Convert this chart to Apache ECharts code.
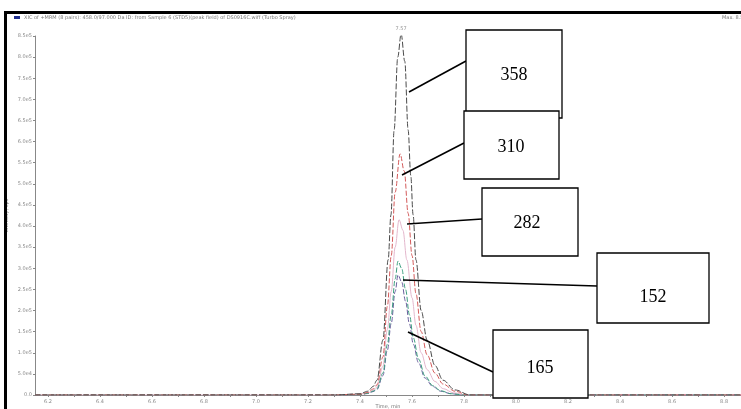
<!DOCTYPE html>
<html><head><meta charset="utf-8">
<script src="https://cdn.jsdelivr.net/npm/echarts@6/dist/echarts.min.js"></script>
<style>html,body{margin:0;padding:0;background:#fff}#c{width:741px;height:409px}</style>
</head><body><div id="c"></div>
<script>
// ---- data ----
const xTickLabels = [6.2, 6.4, 6.6, 6.8, 7.0, 7.2, 7.4, 7.6, 7.8, 8.0, 8.2, 8.4, 8.6, 8.8];
const xMinorTicks = [6.2,6.3,6.4,6.5,6.6,6.7,6.8,6.9,7.0,7.1,7.2,7.3,7.4,7.5,7.6,7.7,7.8,7.9,8.0,8.1,8.2,8.3,8.4,8.5,8.6,8.7,8.8];
const peakLabel = "7.57";

const t358 = [6.15, 7.30, 7.40, 7.43, 7.45, 7.465, 7.488, 7.508, 7.519, 7.531, 7.545, 7.558, 7.572, 7.585, 7.595, 7.604, 7.615, 7.635, 7.658, 7.688, 7.719, 7.765, 7.823, 8.865];
const v358 = [0, 0, 3000, 9000, 20000, 35000, 130000, 320000, 427000, 627000, 800000, 855000, 790000, 627000, 520000, 427000, 320000, 200000, 130000, 70000, 35000, 12000, 0, 0];

const t310 = [6.15, 7.30, 7.40, 7.43, 7.45, 7.465, 7.488, 7.505, 7.52, 7.535, 7.554, 7.570, 7.585, 7.60, 7.615, 7.635, 7.658, 7.688, 7.719, 7.765, 7.815, 8.865];
const v310 = [0, 0, 2000, 6000, 14000, 24000, 90000, 210000, 330000, 480000, 571000, 530000, 430000, 330000, 240000, 150000, 95000, 52000, 26000, 9000, 0, 0];

const t282 = [6.15, 7.30, 7.40, 7.43, 7.45, 7.465, 7.488, 7.505, 7.52, 7.535, 7.550, 7.565, 7.58, 7.60, 7.615, 7.635, 7.658, 7.688, 7.72, 7.76, 7.81, 8.865];
const v282 = [0, 0, 1500, 5000, 11000, 19000, 68000, 155000, 245000, 350000, 415000, 390000, 320000, 230000, 165000, 100000, 60000, 32000, 15000, 5000, 0, 0];

const t152 = [6.15, 7.30, 7.40, 7.43, 7.45, 7.465, 7.488, 7.505, 7.52, 7.535, 7.546, 7.56, 7.575, 7.59, 7.605, 7.625, 7.65, 7.68, 7.71, 7.75, 7.80, 8.865];
const v152 = [0, 0, 1200, 4000, 9000, 15000, 52000, 120000, 190000, 275000, 317000, 300000, 250000, 190000, 135000, 85000, 45000, 22000, 10000, 3000, 0, 0];

const t165 = [6.15, 7.30, 7.40, 7.43, 7.45, 7.465, 7.488, 7.505, 7.52, 7.535, 7.546, 7.56, 7.575, 7.59, 7.605, 7.625, 7.65, 7.68, 7.71, 7.75, 7.80, 8.865];
const v165 = [0, 0, 1000, 3500, 8000, 13000, 46000, 106000, 170000, 245000, 284000, 268000, 222000, 168000, 120000, 76000, 40000, 20000, 9000, 3000, 0, 0];

const boxLabels = ["358", "310", "282", "152", "165"];

function pairs(t, v) { return t.map((x, i) => [x, v[i]]); }

const chart = echarts.init(document.getElementById('c'), null, {renderer: 'canvas'});

function yFmt(v) {
  if (v === 0) return '0.0';
  if (v < 100000) return (v / 10000).toFixed(1) + 'e4';
  return (v / 100000).toFixed(1) + 'e5';
}

function lineSeries(name, t, v, color, dash, z) {
  return {
    name: name, type: 'line', data: pairs(t, v), showSymbol: false, symbol: 'none',
    smooth: 0.35, smoothMonotone: 'x', z: z,
    lineStyle: {color: color, width: 1, type: dash},
    emphasis: {disabled: true}
  };
}

const font = 'DejaVu Sans';
const peakSeries = {
  type: 'scatter', z: 6, symbol: 'circle', symbolSize: 2, silent: true, clip: false,
  itemStyle: {color: 'rgba(255,255,255,0)'},
  data: [[t358[11], v358[11]]],
  label: {show: true, position: 'top', distance: 2, formatter: peakLabel, fontSize: 5, color: '#777', fontFamily: font},
  labelLayout: {hideOverlap: false},
  emphasis: {disabled: true}
};

const option = {
  animation: false,
  backgroundColor: '#fff',
  grid: {left: 35, right: 0, top: 36, bottom: 14, containLabel: false, outerBoundsMode: 'none'},
  xAxis: {
    type: 'value', min: 6.15, max: 8.865,
    name: 'Time, min', nameLocation: 'middle', nameGap: 9, nameMoveOverlap: false,
    nameTextStyle: {fontSize: 5, color: '#777', fontFamily: font, padding: [0, 0, 0, 0]},
    axisLine: {lineStyle: {color: '#888', width: 1}},
    axisTick: {show: true, length: 2, customValues: xMinorTicks, lineStyle: {color: '#888'}},
    axisLabel: {customValues: xTickLabels, formatter: v => v.toFixed(1), fontSize: 5, color: '#888', margin: 4, fontFamily: font},
    splitLine: {show: false}
  },
  yAxis: {
    type: 'value', min: 0, max: 850000, interval: 50000,
    name: 'Intensity, cps', nameLocation: 'middle', nameGap: 26, nameRotate: 90, nameMoveOverlap: false,
    nameTextStyle: {fontSize: 5, color: '#777', fontFamily: font},
    axisLine: {show: true, lineStyle: {color: '#888', width: 1}},
    axisTick: {show: true, length: 2, lineStyle: {color: '#888'}},
    axisLabel: {formatter: yFmt, fontSize: 5, color: '#888', margin: 3, fontFamily: font},
    splitLine: {show: false}
  },
  series: [
    lineSeries('165', t165, v165, '#6a5f9e', [5, 2], 2),
    lineSeries('152', t152, v152, '#3c9e7e', [5, 2], 3),
    lineSeries('282', t282, v282, '#e3b7cc', 'solid', 2),
    lineSeries('310', t310, v310, '#d35a5a', [5, 2], 4),
    lineSeries('358', t358, v358, '#4a4a4a', [6, 2], 5),
    peakSeries
  ],
  graphic: {
    elements: [
      // frame
      {type: 'rect', silent: true, z: 100, shape: {x: 4, y: 11, width: 740, height: 3}, style: {fill: '#000'}},
      {type: 'rect', silent: true, z: 100, shape: {x: 4, y: 11, width: 3, height: 400}, style: {fill: '#000'}},
      // header
      {type: 'rect', silent: true, z: 100, shape: {x: 14, y: 16, width: 6, height: 3}, style: {fill: '#1f2f8f'}},
      {type: 'text', silent: true, z: 100, x: 24, y: 17.5, style: {text: 'XIC of +MRM (8 pairs): 458.0/97.000 Da ID: from Sample 6 (STD5)(peak field) of DS0916C.wiff (Turbo Spray)', font: '5px "DejaVu Sans"', fill: '#777', textVerticalAlign: 'middle'}},
      {type: 'text', silent: true, z: 100, x: 722, y: 17.5, style: {text: 'Max. 8.5e5 cps.', font: '5px "DejaVu Sans"', fill: '#777', textVerticalAlign: 'middle'}},
      // leader lines
      {type: 'line', silent: true, z: 110, shape: {x1: 409, y1: 92, x2: 466, y2: 61}, style: {stroke: '#000', lineWidth: 1.6}},
      {type: 'line', silent: true, z: 110, shape: {x1: 402, y1: 175, x2: 464, y2: 143}, style: {stroke: '#000', lineWidth: 1.6}},
      {type: 'line', silent: true, z: 110, shape: {x1: 407, y1: 224, x2: 482, y2: 219}, style: {stroke: '#000', lineWidth: 1.6}},
      {type: 'line', silent: true, z: 110, shape: {x1: 403, y1: 280, x2: 597, y2: 286}, style: {stroke: '#000', lineWidth: 1.6}},
      {type: 'line', silent: true, z: 110, shape: {x1: 408, y1: 332, x2: 493, y2: 372}, style: {stroke: '#000', lineWidth: 1.6}},
      // boxes
      {type: 'rect', silent: true, z: 120, shape: {x: 466, y: 30, width: 96, height: 88}, style: {fill: '#fff', stroke: '#000', lineWidth: 1.3}},
      {type: 'text', silent: true, z: 121, x: 514, y: 75, style: {text: boxLabels[0], font: '18px "Liberation Serif"', fill: '#000', textAlign: 'center', textVerticalAlign: 'middle'}},
      {type: 'rect', silent: true, z: 120, shape: {x: 464, y: 111, width: 95, height: 68}, style: {fill: '#fff', stroke: '#000', lineWidth: 1.3}},
      {type: 'text', silent: true, z: 121, x: 511, y: 147, style: {text: boxLabels[1], font: '18px "Liberation Serif"', fill: '#000', textAlign: 'center', textVerticalAlign: 'middle'}},
      {type: 'rect', silent: true, z: 120, shape: {x: 482, y: 188, width: 96, height: 68}, style: {fill: '#fff', stroke: '#000', lineWidth: 1.3}},
      {type: 'text', silent: true, z: 121, x: 527, y: 223, style: {text: boxLabels[2], font: '18px "Liberation Serif"', fill: '#000', textAlign: 'center', textVerticalAlign: 'middle'}},
      {type: 'rect', silent: true, z: 120, shape: {x: 597, y: 253, width: 112, height: 70}, style: {fill: '#fff', stroke: '#000', lineWidth: 1.3}},
      {type: 'text', silent: true, z: 121, x: 653, y: 297, style: {text: boxLabels[3], font: '18px "Liberation Serif"', fill: '#000', textAlign: 'center', textVerticalAlign: 'middle'}},
      {type: 'rect', silent: true, z: 120, shape: {x: 493, y: 330, width: 95, height: 68}, style: {fill: '#fff', stroke: '#000', lineWidth: 1.3}},
      {type: 'text', silent: true, z: 121, x: 540, y: 368, style: {text: boxLabels[4], font: '18px "Liberation Serif"', fill: '#000', textAlign: 'center', textVerticalAlign: 'middle'}}
    ]
  }
};
chart.setOption(option);
</script>
</body></html>
